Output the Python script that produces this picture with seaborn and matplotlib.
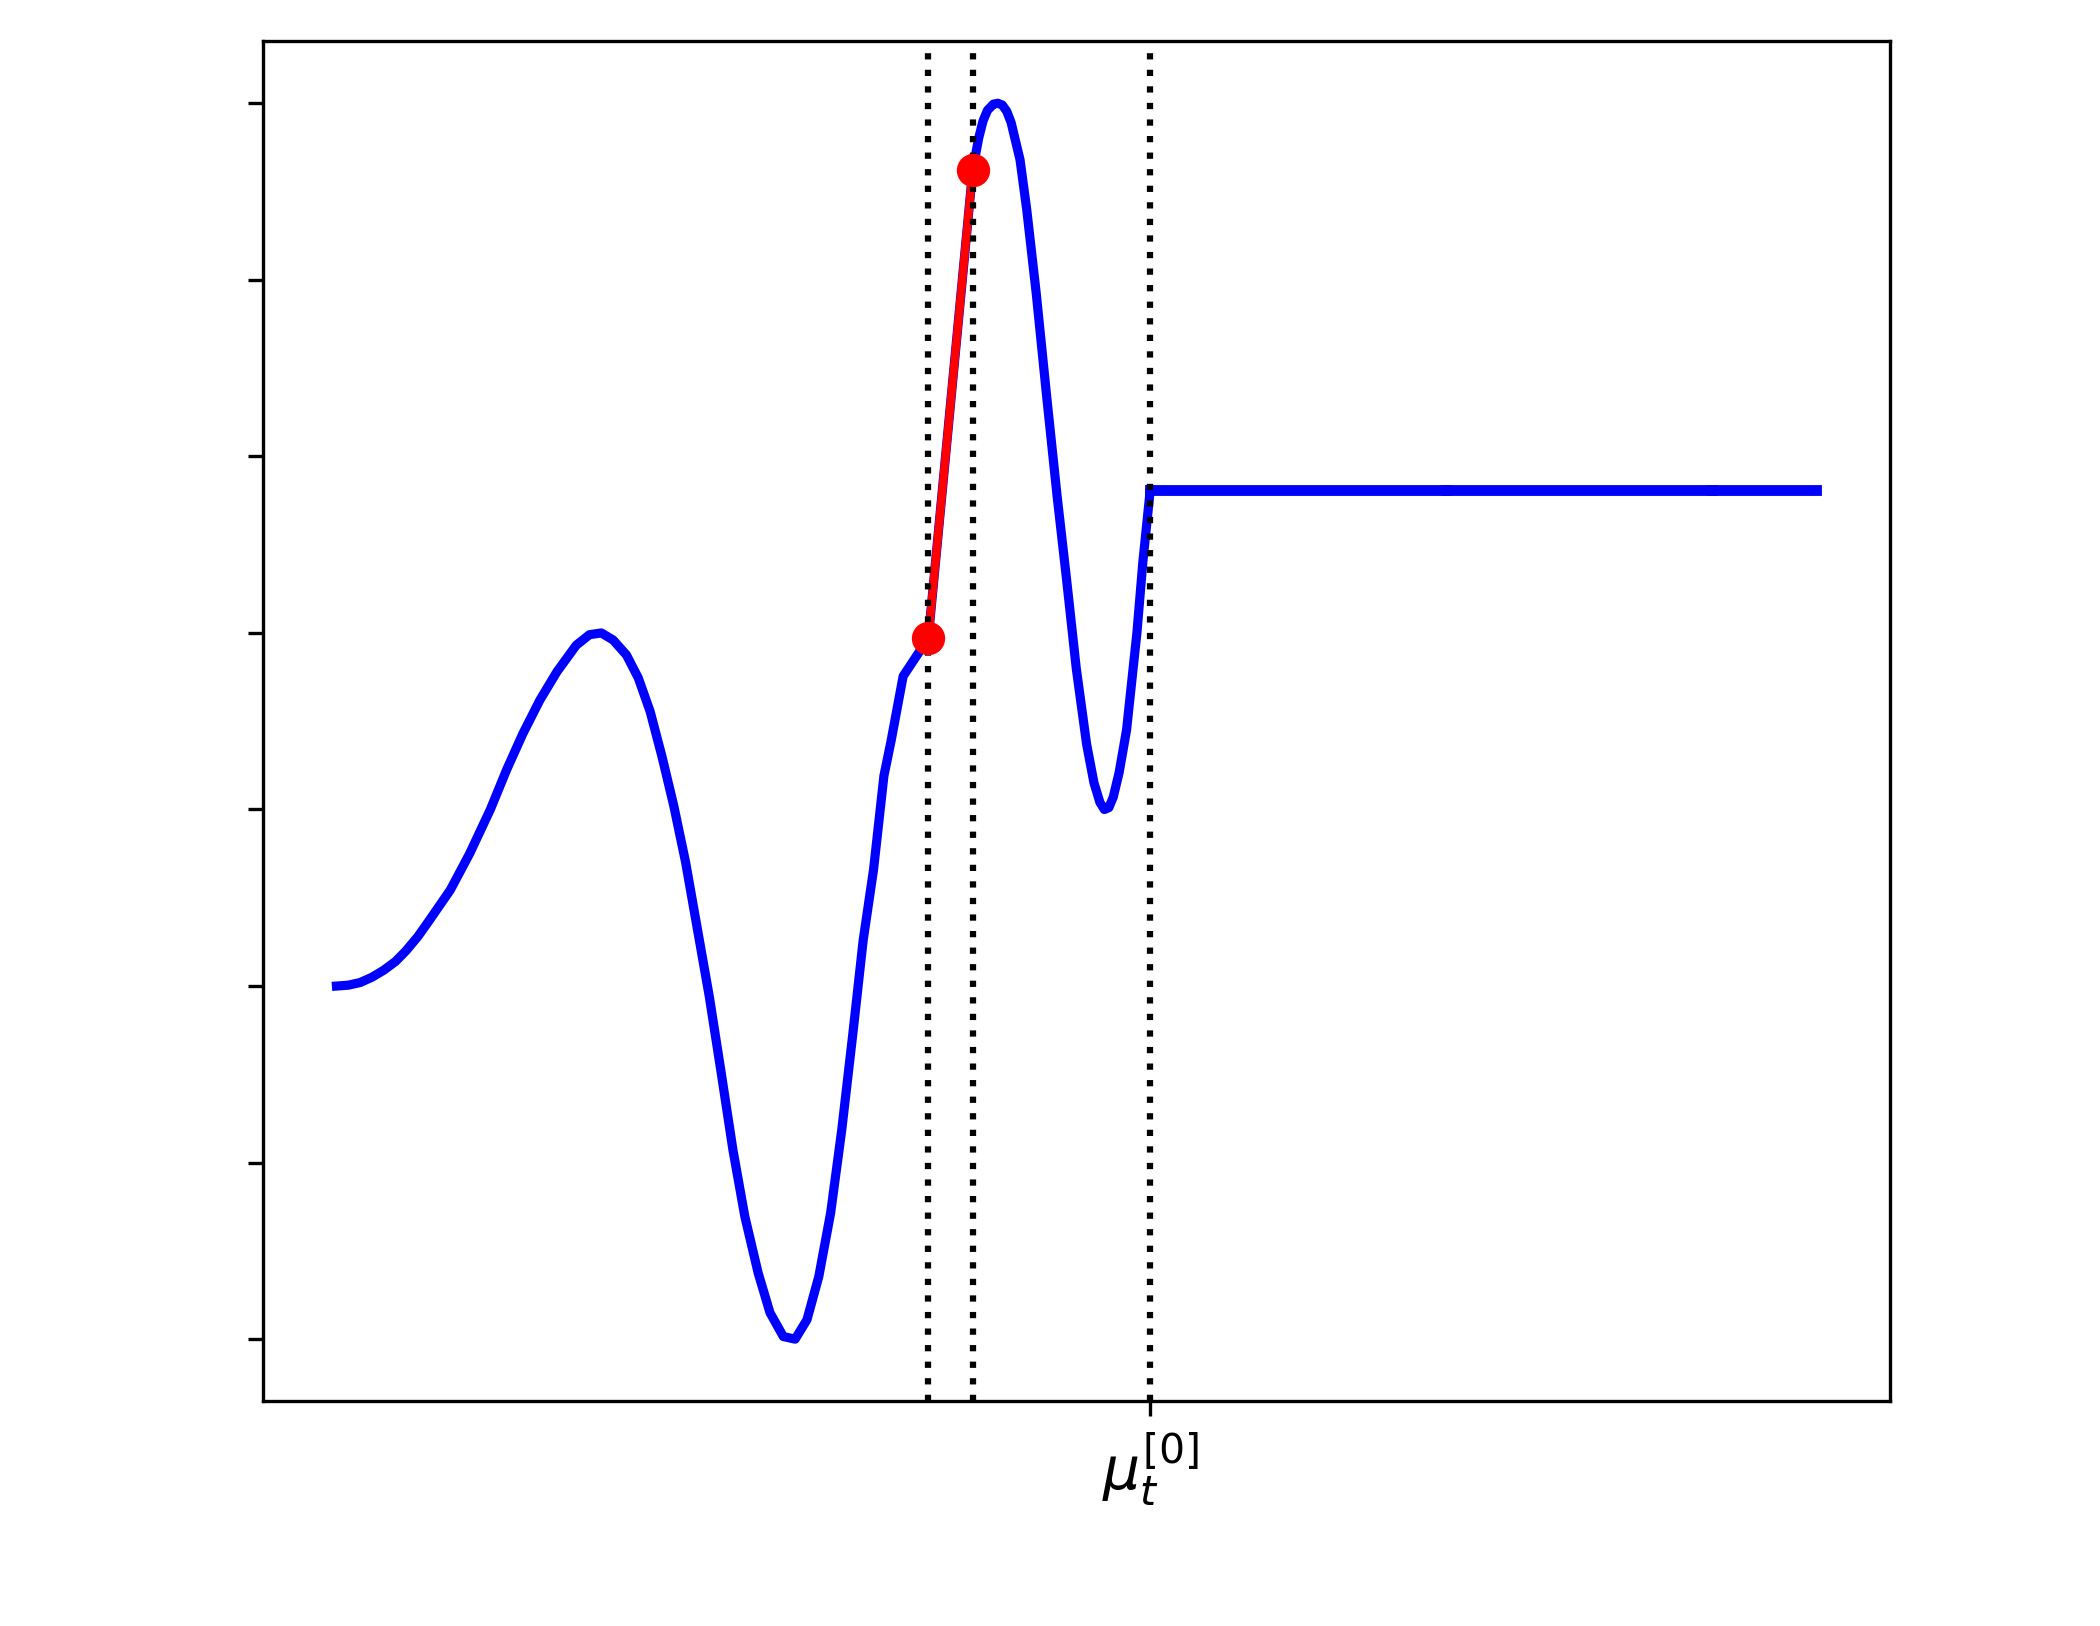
import matplotlib
matplotlib.use("Agg")
import matplotlib.pyplot as plt
import pandas as pd
import seaborn as sns

# wavy part of the curve (x in units 0..10, y in tick units)
curve_x = [0.0, 0.08, 0.16, 0.24, 0.32, 0.40, 0.47, 0.55, 0.63, 0.77, 0.90,
           1.04, 1.15, 1.26, 1.375, 1.49, 1.62, 1.71, 1.79, 1.87, 1.96, 2.04,
           2.12, 2.20, 2.28, 2.36, 2.44, 2.52, 2.60, 2.68, 2.76, 2.85, 2.93,
           3.02, 3.10, 3.18, 3.26, 3.34, 3.415, 3.49, 3.56, 3.63, 3.70, 3.75,
           3.83, 4.0, 4.30, 4.34, 4.37, 4.40, 4.44, 4.47, 4.50, 4.53, 4.56,
           4.62, 4.665, 4.73, 4.80, 4.87, 4.935, 5.00, 5.07, 5.12, 5.16, 5.19,
           5.22, 5.25, 5.29, 5.34, 5.41, 5.45, 5.5]
curve_y = [0.0, 0.005, 0.02, 0.05, 0.09, 0.14, 0.20, 0.28, 0.375, 0.545, 0.75,
           1.0, 1.225, 1.43, 1.62, 1.78, 1.93, 1.99, 2.0, 1.96, 1.875, 1.745,
           1.555, 1.30, 1.02, 0.70, 0.32, -0.06, -0.49, -0.93, -1.305, -1.625, -1.85,
           -1.985, -2.0, -1.89, -1.645, -1.285, -0.815, -0.27, 0.26, 0.66, 1.19, 1.395,
           1.755, 1.97, 4.62, 4.80, 4.90, 4.96, 4.995, 5.0, 4.99, 4.955, 4.89,
           4.68, 4.40, 3.92, 3.34, 2.78, 2.30, 1.80, 1.37, 1.15, 1.04, 1.0,
           1.01, 1.07, 1.21, 1.45, 2.0, 2.40, 2.81]

# flat part after mu_t^[0], drawn in pieces
flat_x = [5.5, 7.5, 9.3, 10.0]
flat_y = [2.81, 2.81, 2.81, 2.81]

# secant between the two evaluated points
secant_x = [4.0, 4.3]
secant_y = [1.97, 4.62]

# vertical guides
vlines_x = [4.0, 4.3, 5.5]

xtick_pos = [5.5]
xtick_labels = [r'$\mu_t^{[0]}$']
ytick_pos = [-2, -1, 0, 1, 2, 3, 4, 5]


def main():
    fig = plt.figure(figsize=(7, 5.42), dpi=300)
    ax = fig.add_axes([0.125, 0.1384, 0.775, 0.8361])

    df_curve = pd.DataFrame({'x': curve_x, 'y': curve_y})
    df_sec = pd.DataFrame({'x': secant_x, 'y': secant_y})

    sns.lineplot(data=df_curve, x='x', y='y', sort=False, estimator=None,
                 color='blue', linewidth=2.2, ax=ax)
    for i in range(len(flat_x) - 1):
        seg = pd.DataFrame({'x': flat_x[i:i + 2], 'y': flat_y[i:i + 2]})
        sns.lineplot(data=seg, x='x', y='y', sort=False, estimator=None,
                     color='blue', linewidth=2.6, ax=ax)
    sns.lineplot(data=df_sec, x='x', y='y', sort=False, estimator=None,
                 color='red', linewidth=2.0, ax=ax)
    for xv in vlines_x:
        ax.axvline(xv, color='black', linestyle=':', linewidth=1.5)
    sns.scatterplot(data=df_sec, x='x', y='y', color='red', s=64,
                    linewidth=0, zorder=5, ax=ax)

    ax.set_xticks(xtick_pos)
    ax.set_xticklabels(xtick_labels, fontsize=14)
    ax.set_yticks(ytick_pos)
    ax.set_yticklabels([])
    ax.set_xlabel('')
    ax.set_ylabel('')

    fig.savefig('out.png', dpi=300)
    plt.close(fig)


if __name__ == '__main__':
    main()
